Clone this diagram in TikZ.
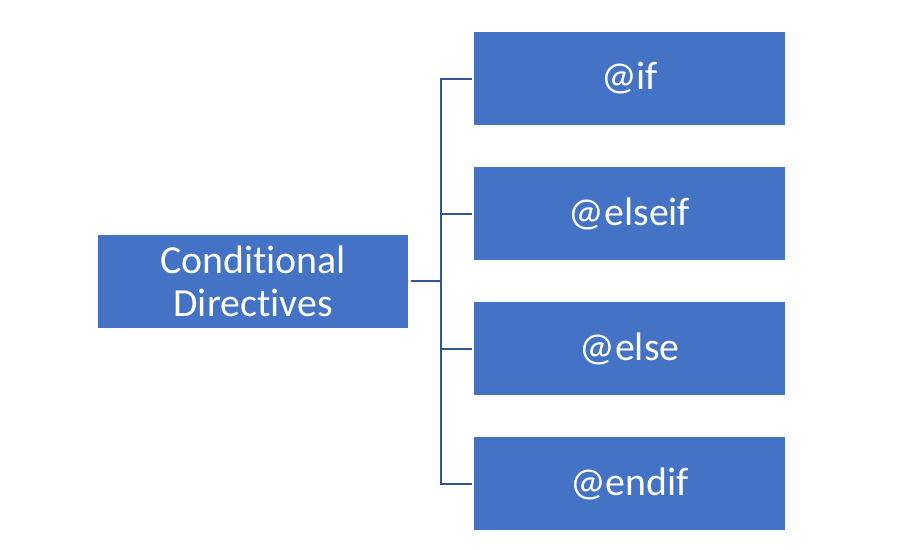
\documentclass[tikz,border=0pt]{standalone}
\usepackage{fontspec}
\setmainfont{Carlito}[RawFeature=-liga]
\definecolor{boxblue}{HTML}{4472C4}
\definecolor{lineblue}{HTML}{2F5597}
\begin{document}
\begin{tikzpicture}[x=1pt,y=-1pt,
  blockbox/.style={fill=boxblue,draw=none,text=white,minimum width=311pt,minimum height=93pt,inner sep=0pt,align=center,font=\fontsize{39.8}{43}\selectfont},
  link/.style={draw=lineblue,line width=2pt}]
\useasboundingbox (0,0) rectangle (920,549);
\node[blockbox,minimum width=310pt] (cd) at (253,281) {Conditional\\Directives};
\node[blockbox] (b1) at (629.5,78.5) {@if};
\node[blockbox] (b2) at (629.5,213.5) {@elseif};
\node[blockbox] (b3) at (629.5,348.5) {@else};
\node[blockbox] (b4) at (629.5,483.5) {@endif};
\coordinate (j) at (441,281);
\draw[link] ([xshift=3pt]cd.east) -- (j);
\draw[link] ([xshift=-2pt]b1.west) -| (j);
\draw[link] ([xshift=-2pt]b2.west) -- (b2.west -| j);
\draw[link] ([xshift=-2pt]b3.west) -- (b3.west -| j);
\draw[link] ([xshift=-2pt]b4.west) -| (j);
\end{tikzpicture}
\end{document}
